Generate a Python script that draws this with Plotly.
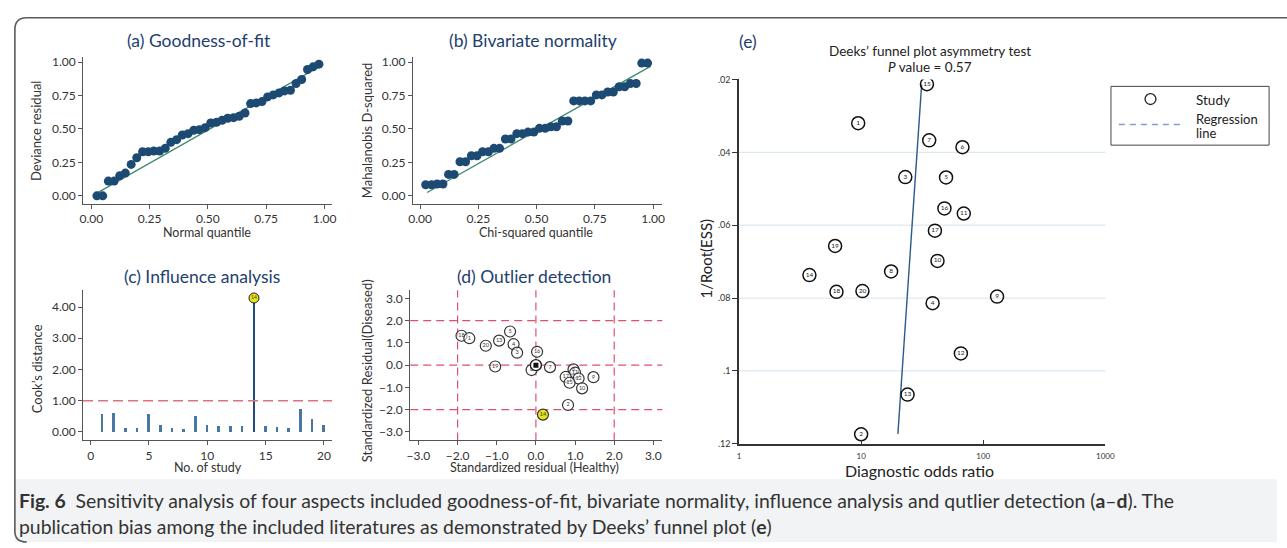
import plotly.graph_objects as go

W, H = 1287, 548
FONT = "Lato"
NAVY = "#22406f"
TXT = "#333333"

# ---------------- data ----------------
A_X = [0.024, 0.049, 0.073, 0.098, 0.122, 0.146, 0.171, 0.195, 0.220, 0.244,
       0.268, 0.293, 0.317, 0.341, 0.366, 0.390, 0.415, 0.439, 0.463, 0.488,
       0.512, 0.537, 0.561, 0.585, 0.610, 0.634, 0.659, 0.683, 0.707, 0.732,
       0.756, 0.780, 0.805, 0.829, 0.854, 0.878, 0.902, 0.927, 0.951, 0.976]
A_Y = [0.00, 0.00, 0.11, 0.11, 0.15, 0.17, 0.235, 0.285, 0.33, 0.33,
       0.335, 0.335, 0.355, 0.40, 0.42, 0.455, 0.465, 0.49, 0.495, 0.51,
       0.545, 0.55, 0.565, 0.58, 0.585, 0.595, 0.62, 0.69, 0.695, 0.705,
       0.74, 0.755, 0.77, 0.785, 0.79, 0.84, 0.87, 0.945, 0.965, 0.985]
A_LINE_X = [0.024, 0.976]
A_LINE_Y = [0.02, 0.965]

B_X = A_X
B_Y = [0.083, 0.083, 0.088, 0.088, 0.16, 0.16, 0.255, 0.255, 0.30, 0.30,
       0.33, 0.33, 0.355, 0.355, 0.425, 0.425, 0.465, 0.465, 0.477, 0.477,
       0.505, 0.505, 0.517, 0.517, 0.56, 0.56, 0.71, 0.71, 0.71, 0.71,
       0.755, 0.755, 0.777, 0.777, 0.816, 0.816, 0.84, 0.84, 0.993, 0.993]
B_LINE_X = [0.03, 0.99]
B_LINE_Y = [0.025, 0.97]

C_STUDY = list(range(1, 21))
C_COOK = [0.555, 0.61, 0.125, 0.125, 0.575, 0.21, 0.125, 0.10, 0.51, 0.22,
          0.20, 0.18, 0.18, 4.29, 0.18, 0.15, 0.125, 0.74, 0.41, 0.22]
C_THRESH = 1.0
C_OUTLIER = 14

D_LABEL = ["18", "1", "20", "13", "5", "4", "3", "19", "16", "8", "7", "6", "11",
           "17", "12", "15", "10", "9", "2"]
D_X = [-1.90, -1.70, -1.28, -0.94, -0.66, -0.57, -0.48, -1.04, 0.03, -0.11, 0.36,
       0.96, 1.00, 0.76, 1.09, 0.86, 1.18, 1.47, 0.82]
D_Y = [1.32, 1.21, 0.87, 1.10, 1.51, 0.94, 0.56, -0.06, 0.60, -0.22, -0.09,
       -0.19, -0.34, -0.53, -0.60, -0.79, -1.04, -0.54, -1.79]
D_OUT_X, D_OUT_Y, D_OUT_LABEL = [0.18], [-2.22], ["14"]
D_CENTER_X, D_CENTER_Y = [0.0], [0.0]
D_REF = [-2.0, 0.0, 2.0]

E_LABEL = ["15", "1", "7", "6", "3", "5", "16", "11", "17", "19",
           "10", "14", "8", "18", "20", "4", "9", "12", "13", "2"]
E_DOR = [34.6, 9.46, 36.1, 67.6, 23.0, 49.6, 48.1, 69.3, 40.2, 6.12,
         42.2, 3.77, 17.6, 6.28, 10.25, 38.5, 129.8, 65.6, 24.0, 10.0]
E_ESS = [0.0213, 0.0320, 0.0367, 0.0386, 0.0468, 0.0469, 0.0554, 0.0568, 0.0615, 0.0657,
         0.0698, 0.0737, 0.0727, 0.0783, 0.0781, 0.0814, 0.0796, 0.0952, 0.1065, 0.1174]
E_REG_X = [31.3, 20.0]
E_REG_Y = [0.0214, 0.1173]
E_YTICKS = [0.02, 0.04, 0.06, 0.08, 0.10, 0.12]
E_YTEXT = [".02", ".04", ".06", ".08", ".1", ".12"]
E_XTICKS = [1, 10, 100, 1000]
E_XTEXT = ["1", "10", "100", "1000"]
E_GRID = [0.04, 0.06, 0.08, 0.10]

Q_TICKS = [0, 0.25, 0.5, 0.75, 1.0]
C_XTICKS = [0, 5, 10, 15, 20]
C_YTICKS = [0, 1, 2, 3, 4]
D_TICKS = [-3, -2, -1, 0, 1, 2, 3]


# ---------------- helpers ----------------
def PX(x):
    return x / W


def PY(y):
    return 1 - y / H


def dx(a, b):
    return [PX(a), PX(b)]


def dy(top, bottom):
    return [PY(bottom), PY(top)]


def ann(text, x, y, size, color=TXT, angle=0, xanchor="center", family=FONT):
    return dict(text=text, x=PX(x), y=PY(y), xref="paper", yref="paper",
                showarrow=False, font=dict(size=size, color=color, family=family),
                textangle=angle, xanchor=xanchor, yanchor="middle")


fig = go.Figure()

# (a)
fig.add_trace(go.Scatter(x=A_LINE_X, y=A_LINE_Y, mode="lines",
                         line=dict(color="#3c8a6c", width=1.3), xaxis="x", yaxis="y",
                         showlegend=False))
fig.add_trace(go.Scatter(x=A_X, y=A_Y, mode="markers",
                         marker=dict(size=9, color="#1c4a73"), xaxis="x", yaxis="y",
                         showlegend=False))
# (b)
fig.add_trace(go.Scatter(x=B_LINE_X, y=B_LINE_Y, mode="lines",
                         line=dict(color="#3c8a6c", width=1.3), xaxis="x2", yaxis="y2",
                         showlegend=False))
fig.add_trace(go.Scatter(x=B_X, y=B_Y, mode="markers",
                         marker=dict(size=9, color="#1c4a73"), xaxis="x2", yaxis="y2",
                         showlegend=False))
# (c)
bar_colors = ["#1f4a7a" if s == C_OUTLIER else "#4a76a3" for s in C_STUDY]
bar_widths = [0.22 if s == C_OUTLIER else 0.17 for s in C_STUDY]
fig.add_trace(go.Bar(x=C_STUDY, y=C_COOK, width=bar_widths,
                     marker=dict(color=bar_colors, line=dict(width=0)),
                     xaxis="x3", yaxis="y3", showlegend=False))
fig.add_trace(go.Scatter(x=[C_OUTLIER], y=[C_COOK[C_STUDY.index(C_OUTLIER)]],
                         mode="markers+text", text=[str(C_OUTLIER)],
                         textposition="middle center",
                         textfont=dict(size=5, color="#333", family=FONT),
                         marker=dict(size=10, color="#e8e41a", line=dict(color="#222", width=1)),
                         xaxis="x3", yaxis="y3", showlegend=False))
# (d)
fig.add_trace(go.Scatter(x=D_X, y=D_Y, mode="markers+text", text=D_LABEL,
                         textposition="middle center",
                         textfont=dict(size=5.5, color="#333", family=FONT),
                         marker=dict(size=11, color="rgba(255,255,255,0.6)",
                                     line=dict(color="#333", width=1.2)),
                         xaxis="x4", yaxis="y4", showlegend=False))
fig.add_trace(go.Scatter(x=D_CENTER_X, y=D_CENTER_Y, mode="markers",
                         marker=dict(size=11, color="white", line=dict(color="#222", width=1.4)),
                         xaxis="x4", yaxis="y4", showlegend=False))
fig.add_trace(go.Scatter(x=D_CENTER_X, y=D_CENTER_Y, mode="markers",
                         marker=dict(size=5, symbol="square", color="#111"),
                         xaxis="x4", yaxis="y4", showlegend=False))
fig.add_trace(go.Scatter(x=D_OUT_X, y=D_OUT_Y, mode="markers+text", text=D_OUT_LABEL,
                         textposition="middle center",
                         textfont=dict(size=5.5, color="#333", family=FONT),
                         marker=dict(size=11, color="#e8e41a", line=dict(color="#333", width=1.2)),
                         xaxis="x4", yaxis="y4", showlegend=False))
# (e)
fig.add_trace(go.Scatter(x=E_REG_X, y=E_REG_Y, mode="lines",
                         line=dict(color="#2b5b8c", width=1.4),
                         xaxis="x5", yaxis="y5", showlegend=False))
fig.add_trace(go.Scatter(x=E_DOR, y=E_ESS, mode="markers+text", text=E_LABEL,
                         textposition="middle center",
                         textfont=dict(size=6.5, color="#222", family=FONT),
                         marker=dict(size=13, color="rgba(255,255,255,0)",
                                     line=dict(color="#111", width=1.5)),
                         xaxis="x5", yaxis="y5", showlegend=False))

axis_common = dict(showgrid=False, zeroline=False, showline=True, linecolor="#555",
                   linewidth=1, ticks="outside", ticklen=4, tickcolor="#555",
                   tickfont=dict(size=12, color=TXT, family=FONT), mirror=False)
xcommon = dict(axis_common, ticklabelstandoff=0)

layout = dict(
    width=W, height=H, margin=dict(l=0, r=0, t=0, b=0),
    paper_bgcolor="white", plot_bgcolor="rgba(0,0,0,0)", showlegend=False,
    font=dict(family=FONT, color=TXT),
    xaxis=dict(xcommon, domain=dx(79, 331), range=[-0.0352, 1.0326], anchor="y",
               tickvals=Q_TICKS, tickformat=".2f"),
    yaxis=dict(axis_common, domain=dy(52, 202), range=[-0.0608, 1.0389], anchor="x",
               tickvals=Q_TICKS, tickformat=".2f"),
    xaxis2=dict(xcommon, domain=dx(412.7, 665), range=[-0.031, 1.039], anchor="y2",
                tickvals=Q_TICKS, tickformat=".2f"),
    yaxis2=dict(axis_common, domain=dy(52, 202), range=[-0.0608, 1.0389], anchor="x2",
                tickvals=Q_TICKS, tickformat=".2f"),
    xaxis3=dict(xcommon, domain=dx(79, 331), range=[-0.65, 20.7], anchor="y3",
                tickvals=C_XTICKS),
    yaxis3=dict(axis_common, domain=dy(290, 443.3), range=[-0.27, 4.54], anchor="x3",
                tickvals=C_YTICKS, tickformat=".2f"),
    xaxis4=dict(xcommon, domain=dx(410, 665), range=[-3.21, 3.227], anchor="y4",
                tickvals=D_TICKS, tickformat=".1f"),
    yaxis4=dict(axis_common, domain=dy(290, 443.3), range=[-3.378, 3.365], anchor="x4",
                tickvals=D_TICKS, tickformat=".1f"),
    xaxis5=dict(domain=dx(742.7, 1113.3), type="log", range=[0, 3], anchor="y5",
                showgrid=False, zeroline=False, showline=True, linecolor="#333", linewidth=1.5,
                ticks="inside", ticklen=4, tickcolor="#333", tickvals=E_XTICKS,
                ticktext=E_XTEXT, ticklabelstandoff=4,
                tickfont=dict(size=8, color=TXT, family=FONT)),
    yaxis5=dict(domain=dy(75, 446.7), range=[0.12, 0.02], anchor="x5",
                showgrid=False, zeroline=False, showline=True, linecolor="#333", linewidth=1.5,
                ticks="outside", ticklen=5, tickcolor="#333", tickvals=E_YTICKS,
                ticktext=E_YTEXT, tickfont=dict(size=9, color=TXT, family=FONT)),
    bargap=0,
)
fig.update_layout(**layout)

shapes = []
# caption background and frame
shapes.append(dict(type="rect", xref="paper", yref="paper", x0=PX(10), x1=1.0,
                   y0=PY(547), y1=PY(483), fillcolor="#f2f3f5", line=dict(width=0), layer="below"))
frame = (f"M {PX(22)},{PY(547)} Q {PX(10)},{PY(547)} {PX(10)},{PY(536)} "
         f"L {PX(10)},{PY(24)} Q {PX(10)},{PY(12)} {PX(22)},{PY(12)} L 1.01,{PY(12)}")
shapes.append(dict(type="path", xref="paper", yref="paper", path=frame,
                   line=dict(color="#5a5a5a", width=1.6)))
# (c) threshold
shapes.append(dict(type="line", xref="x3 domain", yref="y3", x0=0, x1=1, y0=C_THRESH, y1=C_THRESH,
                   line=dict(color="#e0707f", width=1.5, dash="10px,5px")))
# (d) reference lines
for v in D_REF:
    shapes.append(dict(type="line", xref="x4", yref="y4 domain", x0=v, x1=v, y0=0, y1=1,
                       line=dict(color="#e0506e", width=1.2, dash="8px,5px"), layer="below"))
    shapes.append(dict(type="line", xref="x4 domain", yref="y4", x0=0, x1=1, y0=v, y1=v,
                       line=dict(color="#e0506e", width=1.2, dash="8px,5px"), layer="below"))
# (e) grid
for g in E_GRID:
    shapes.append(dict(type="line", xref="x5 domain", yref="y5", x0=0, x1=1, y0=g, y1=g,
                       line=dict(color="#dde9f1", width=1.2), layer="below"))
# legend box
shapes.append(dict(type="rect", xref="paper", yref="paper", x0=PX(1119), x1=PX(1279),
                   y0=PY(142), y1=PY(82), line=dict(color="#444", width=1), fillcolor="white"))
shapes.append(dict(type="circle", xref="paper", yref="paper", x0=PX(1153.5), x1=PX(1164.5),
                   y0=PY(100.5), y1=PY(89.5), line=dict(color="#222", width=1.3)))
shapes.append(dict(type="line", xref="paper", yref="paper", x0=PX(1127), x1=PX(1192),
                   y0=PY(121), y1=PY(121), line=dict(color="#7f9fc6", width=1.5, dash="6px,5px")))

annotations = [
    ann("(a) Goodness-of-fit", 196, 35, 17.5, NAVY),
    ann("(b) Bivariate normality", 534, 35, 17.5, NAVY),
    ann("(c) Influence analysis", 199, 276, 17.5, NAVY),
    ann("(d) Outlier detection", 535, 276, 17.5, NAVY),
    ann("(e)", 752, 36, 17.5, NAVY),
    ann("Normal quantile", 204, 231, 12.5),
    ann("Deviance residual", 32, 128, 13, angle=-90),
    ann("Chi-squared quantile", 537, 231, 12.5),
    ann("Mahalanobis D-squared", 367, 127, 13, angle=-90),
    ann("No. of study", 205, 471, 12.5),
    ann("Cook’s distance", 32, 370, 13, angle=-90),
    ann("Standardized residual (Healthy)", 536, 471, 12.5),
    ann("Standardized Residual(Diseased)", 366, 372, 13, angle=-90),
    ann("Deeks’ funnel plot asymmetry test", 936, 46, 13.5, "#222"),
    ann("<i>P</i> value = 0.57", 936, 62, 13.5, "#222"),
    ann("1/Root(ESS)", 709, 258, 15, "#222", angle=-90),
    ann("Diagnostic odds ratio", 925, 474, 16, "#222"),
    ann("Study", 1203, 96, 13.5, "#222", xanchor="left"),
    ann("Regression", 1203, 115, 13, "#222", xanchor="left"),
    ann("line", 1203, 130, 13, "#222", xanchor="left"),
    ann("<b>Fig. 6</b>  Sensitivity analysis of four aspects included goodness-of-fit, "
        "bivariate normality, influence analysis and qutlier detection (<b>a</b>–<b>d</b>). The",
        12, 505, 19.4, "#333", xanchor="left"),
    ann("publication bias among the included literatures as demonstrated by Deeks’ funnel plot "
        "(<b>e</b>)", 12, 531, 19.4, "#333", xanchor="left"),
]

fig.update_layout(shapes=shapes, annotations=annotations)
fig.write_html("out.html")
